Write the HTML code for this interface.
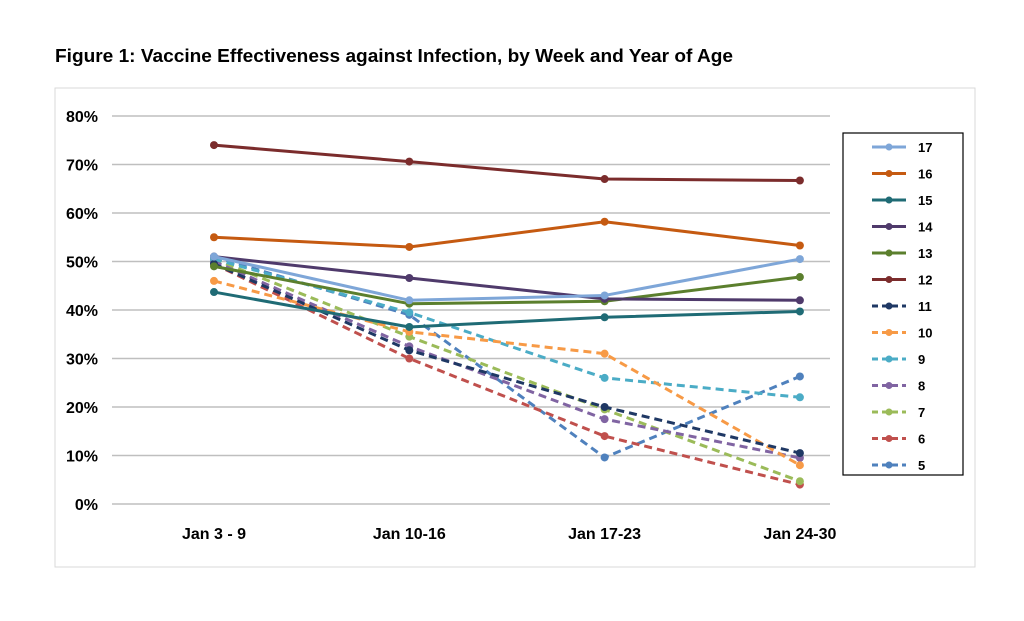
<!DOCTYPE html>
<html><head><meta charset="utf-8"><style>
body{margin:0;background:#fff;font-family:"Liberation Sans",sans-serif}
</style></head><body>
<svg width="1024" height="616" xmlns="http://www.w3.org/2000/svg" id="svg">
<text x="55" y="62" font-size="18" font-weight="bold" fill="#000" textLength="678" lengthAdjust="spacingAndGlyphs">Figure 1: Vaccine Effectiveness against Infection, by Week and Year of Age</text>
<rect x="55" y="88" width="920" height="479" fill="none" stroke="#d9d9d9" stroke-width="1"/>
<g id="grid"></g><g id="series"></g>
<rect x="843" y="133" width="120" height="342" fill="#fff" stroke="#000" stroke-width="1.2"/>
<g id="legend"></g>
</svg>
<script>
const categories=["Jan 3 - 9","Jan 10-16","Jan 17-23","Jan 24-30"];
const yTicks=[0,10,20,30,40,50,60,70,80];
const seriesNames=["17","16","15","14","13","12","11","10","9","8","7","6","5"];
const s17=[51,42,43,50.5];
const s16=[55,53,58.2,53.3];
const s15=[43.7,36.5,38.5,39.7];
const s14=[51,46.6,42.3,42];
const s13=[49,41.3,41.8,46.8];
const s12=[74,70.6,67,66.7];
const s11=[49.5,31.7,20,10.5];
const s10=[46,35.5,31,8];
const s9=[50.5,39.5,26,22];
const s8=[50,32.5,17.5,9.5];
const s7=[50.5,34.5,19.5,4.7];
const s6=[49.5,30,14,4];
const s5=[51,39,9.6,26.3];
const values=[s17,s16,s15,s14,s13,s12,s11,s10,s9,s8,s7,s6,s5];
const colors=["#7ea6d8","#c55a11","#1f6b75","#4f3a6b","#5b7f2d","#7b2c2c","#1f3864","#f79a46","#4bacc6","#8064a2","#9bbb59","#c0504d","#4f81bd"];
const dashed=[false,false,false,false,false,false,true,true,true,true,true,true,true];
const NS="http://www.w3.org/2000/svg";
const y=v=>504-v*4.85;
const x=i=>214+i*195.3;
const grid=document.getElementById('grid');
function mk(tag,attrs,parent){const e=document.createElementNS(NS,tag);for(const k in attrs)e.setAttribute(k,attrs[k]);parent.appendChild(e);return e;}
yTicks.forEach(t=>{
 const l=mk('line',{x1:112,x2:830,y1:y(t),y2:y(t),stroke:'#bfbfbf','stroke-width':1.5},grid);
 
 
 const tx=mk('text',{x:98,y:y(t)+6,'text-anchor':'end','font-size':16,'font-weight':'bold',fill:'#000'},grid);
 tx.textContent=t+'%';
 
 
});
categories.forEach((c,i)=>{
 const tx=mk('text',{x:x(i),y:539,'text-anchor':'middle','font-size':16,'font-weight':'bold',fill:'#000'},grid);
 tx.textContent=c;
 
 
});
const sg=document.getElementById('series');
for(let k=values.length-1;k>=0;k--){
 const g=mk('g',{},sg);
 
 
 const pts=values[k].map((v,i)=>x(i)+','+y(v)).join(' ');
 const attrs={points:pts,fill:'none',stroke:colors[k],'stroke-width':3,'stroke-linejoin':'round'};
 if(dashed[k])attrs['stroke-dasharray']='8,5';
 mk('polyline',attrs,g);
 values[k].forEach((v,i)=>{
  const c=mk('circle',{cx:x(i),cy:y(v),r:4,fill:colors[k]},g);
  
  
 });
}
const lg=document.getElementById('legend');
seriesNames.forEach((n,k)=>{
 const ly=147+k*26.5;
 const g=mk('g',{},lg);
 
 
 const a={x1:872,x2:906,y1:ly,y2:ly,stroke:colors[k],'stroke-width':3};
 if(dashed[k])a['stroke-dasharray']='6,4';
 mk('line',a,g);
 mk('circle',{cx:889,cy:ly,r:3.5,fill:colors[k]},g);
 const t=mk('text',{x:918,y:ly+5,'font-size':13,'font-weight':'bold',fill:'#000'},g);
 t.textContent=n;
});
</script>
</body></html>
